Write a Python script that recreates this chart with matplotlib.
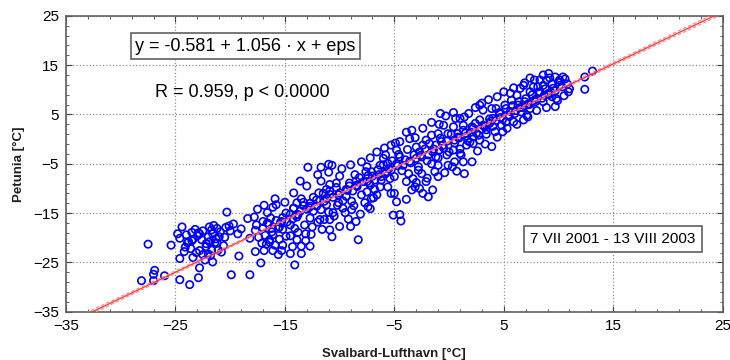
import numpy as np
import matplotlib
matplotlib.use("Agg")
import matplotlib.pyplot as plt
from matplotlib.ticker import FixedLocator

plt.rcParams['font.family'] = ['Liberation Sans', 'DejaVu Sans']

# daily mean air temperature [°C]
svalbard = [
    # cold tail
    -27.5, -28.1, -27.0, -26.9, -27.0, -26.0, -25.4, -24.6, -23.7, -22.9, -22.8,
    -24.4, -24.6, -24.0, -23.5, -23.4, -23.9, -24.2, -24.6, -23.4, -23.1, -22.8,
    -21.7, -21.6, -21.2, -21.0, -22.0, -21.9, -22.2, -21.7, -21.2, -21.1, -22.5,
    -22.0, -21.6, -22.3, -20.0, -19.7, -20.3, -20.1, -19.3, -19.0, -19.2, -19.9,
    -18.2, -18.2, -18.4,
    -24.8, -23.8, -23.0, -22.5, -22.2, -21.3, -20.9, -20.6, -21.9, -23.6, -20.5, -22.8,
    -24.1, -23.2, -22.6, -21.5, -20.8, -21.8, -22.9, -23.5, -20.4, -21.4,
    # -18 .. -8
    -17.8, -17.6, -17.7, -17.4, -17.1, -17.7, -17.2, -16.9, -16.7, -17.0, -16.6,
    -16.3, -16.1, -15.9, -15.8, -16.2, -16.1, -16.4, -15.9, -16.1, -15.3, -15.2,
    -15.5, -15.6, -15.2, -15.3, -14.9, -15.0, -14.2, -13.6, -12.9, -13.0, -13.9,
    -14.2, -13.5, -13.3, -13.8, -14.3, -14.5, -14.1, -14.5, -13.9, -14.3, -14.5,
    -14.1, -13.5, -13.5, -12.7, -12.6, -13.1, -13.2, -12.7, -12.4, -12.7, -12.1,
    -11.9, -11.7, -11.7, -11.0, -10.7, -10.0, -10.3, -10.9, -11.2, -10.9, -11.2,
    -11.7, -11.8, -11.4, -10.9, -10.9, -10.7, -10.0, -10.6, -10.1, -9.7, -9.4,
    -9.1, -8.9, -8.9, -9.0, -8.5, -8.3, -8.6, -8.5,
    -17.5, -16.9, -16.4, -15.6, -14.9, -13.8, -13.1, -12.5, -12.0, -11.6, -11.0,
    -10.5, -10.2, -9.5, -9.2, -8.7, -8.1, -7.7, -7.2, -6.9,
    # -8 .. 13
    -7.5, -7.1, -7.4, -6.8, -7.2, -7.5, -7.1, -7.4, -6.6, -6.3, -6.2, -6.3,
    -6.0, -5.8, -5.6, -5.3, -5.4, -5.6, -5.3, -4.8, -5.0, -5.1, -4.5, -4.4,
    -3.9, -5.3, -4.8, -4.5, -3.9, -3.6, -3.1, -4.5, -4.2, -3.7, -3.9, -3.3,
    -3.1, -3.4, -2.7, -2.4, -1.9, -1.5, -2.1, -2.5, -2.8, -3.0, -2.7, -2.4,
    -2.1, -1.6, -1.9, -1.6, -1.3, -1.0, -1.2, -0.9, -0.7, -1.0, -0.5, -0.8,
    -0.3, 0.4, -0.1, -0.2, -0.1, -0.4, 0.7, 1.4, 0.5, 1.3, 2.1, 1.0, 0.4, 0.5,
    0.8, 0.4, 1.3, 1.0, 1.4, 1.7, 1.6, 2.2, 2.2, 2.7, 2.4, 2.1, 2.8, 2.8, 3.1,
    3.3, 3.4, 3.9, 4.2, 3.7, 4.0, 4.3, 3.9, 4.6, 4.9, 4.8, 5.2, 5.4, 5.1, 5.9,
    6.0, 5.7, 5.6, 6.2, 6.3, 6.6, 6.8, 7.2, 7.4, 6.9, 6.8, 7.4, 7.7, 8.0, 7.8,
    8.3, 8.6, 9.1, 8.9, 8.6, 9.1, 9.5, 9.7, 10.1, 10.4, 9.8, 9.7, 9.4, 10.1,
    10.9, 12.4, 13.1, 12.4, 8.3, 8.1, 6.5,
    # core along the line
    -17.0, -16.8, -16.5, -16.2, -15.8, -15.5, -15.2, -14.8, -14.5, -14.2, -13.9,
    -13.6, -13.3, -13.0, -12.7, -12.4, -12.1, -11.8, -11.5, -11.2, -10.9, -10.6,
    -10.3, -10.0, -9.7, -9.4, -9.1, -8.8, -8.5, -8.2, -8.0, -7.8, -7.6, -7.3,
    -7.0, -6.8, -6.5, -6.2, -6.0, -5.8, -5.5, -5.2, -5.0, -4.8, -4.6, -4.3,
    -4.0, -3.8, -3.5, -3.2, -3.0, -2.8, -2.5, -2.2, -2.0, -1.8, -1.5, -1.2,
    -1.0, -0.8, -0.5, -0.2, 0.0, 0.2, 0.5, 0.8, 1.0, 1.3, 1.6, 1.9, 2.2, 2.5,
    2.8, 3.1, 3.4, 3.7, 4.0, 4.3, 4.6, 4.9, 5.2, 5.5, 5.8, 6.1, 6.4, 6.7, 7.0,
    7.3, 7.6, 7.9, 8.2, 8.5, 8.8, 9.1, 9.4, 9.7, 10.0, 10.3,
    -12.0, -11.0, -9.8, -9.0, -8.0, -7.2, -6.6, -5.9, -4.9, -3.4, -2.4, -1.6,
    -0.9, 0.6, 1.8, 2.4, 3.0, 3.6, 4.4, 5.0, 5.9, 6.9, 7.4, 8.6, 9.2, 10.6,
    10.8, 11.0,
    -3.0, -2.0, -1.0, 0.3, 1.1, 2.6, 3.3, 4.4, 5.3, 6.2, 7.1, 8.0, 8.9, 9.9, 10.5,
    -16.6, -15.4, -14.0, -12.8, -11.4, -10.1, -9.3, -8.4, -7.5, -6.4, -5.7,
    -4.7, -3.6, -2.6, -1.4, -0.6, 0.9, 1.5, 2.0, 3.2, 3.8, 4.7, 5.6, 6.5, 7.2,
    7.8, 8.7, 9.3,
]

petunia = [
    -21.3, -28.7, -28.7, -26.6, -27.4, -27.7, -21.5, -28.5, -29.5, -28.1, -26.1,
    -17.8, -20.1, -19.4, -18.9, -20.3, -21.0, -22.8, -24.2, -24.0, -23.0, -19.2,
    -18.4, -19.2, -18.1, -19.8, -19.8, -20.8, -21.8, -22.5, -21.1, -22.5, -23.4,
    -23.3, -24.9, -24.5, -18.6, -17.2, -14.8, -17.6, -19.2, -18.2, -23.7, -27.5,
    -27.5, -20.1, -16.1,
    -19.2, -20.8, -19.6, -18.6, -21.2, -20.2, -18.8, -21.6, -17.8, -22.2, -19.9, -22.6,
    -21.9, -18.3, -20.4, -17.5, -22.9, -23.6, -19.0, -20.6, -17.9, -21.0,
    -15.8, -17.4, -18.5, -19.9, -21.1, -22.8, -25.1, -22.6, -21.3, -16.7, -14.9,
    -16.0, -13.8, -12.1, -13.3, -18.1, -19.4, -20.4, -21.5, -22.6, -22.6, -21.5,
    -20.3, -18.1, -18.3, -16.7, -15.0, -12.8, -10.9, -8.5, -5.7, -9.5, -12.9,
    -14.0, -12.1, -13.5, -15.3, -16.2, -17.4, -18.1, -19.6, -20.4, -21.8, -23.2,
    -25.5, -21.7, -23.2, -21.7, -19.3, -19.2, -17.4, -16.0, -14.6, -13.6, -12.3,
    -10.9, -8.5, -5.7, -5.1, -5.3, -7.5, -8.9, -9.2, -10.2, -11.2, -13.3,
    -14.3, -16.3, -16.3, -16.3, -18.4, -19.8, -17.7, -14.9, -12.9, -14.0, -11.6,
    -9.5, -12.6, -14.3, -17.7, -16.7, -20.4, -7.2, -8.5,
    -14.2, -13.4, -20.9, -23.4, -19.7, -18.9, -20.6, -17.8, -16.8, -18.3, -14.8,
    -15.6, -13.4, -14.9, -16.2, -13.5, -15.2, -12.9, -14.1, -11.9,
    -5.6, -6.6, -7.4, -8.3, -9.3, -10.7, -12.0, -13.7, -11.3, -9.7, -7.6, -5.3,
    -3.9, -3.2, -4.9, -6.3, -8.0, -9.7, -11.0, -12.7, -11.0, -15.4, -15.3, -16.6,
    -12.2, -1.2, -2.2, -0.5, 1.4, 0.1, 0.3, -3.6, -5.3, -7.0, -8.6, -8.0,
    -9.7, -10.3, -10.0, -11.0, -11.7, -10.3, -8.6, -7.0, -5.6, -3.9, -2.6, -1.2,
    -0.2, 0.8, -3.2, -5.0, -6.6, -5.3, -3.6, -2.2, -0.5, 1.1, 2.8, 5.2,
    4.7, 5.4, 1.1, -3.2, -5.3, -6.8, -6.5, -7.0, -4.6, -4.6, -4.6, -2.9,
    -2.2, -0.2, 1.1, 2.5, 2.8, 4.2, 4.5, -0.3, -1.2, 0.5, -0.9, 0.8, 3.2,
    2.5, 3.9, 6.9, 5.9, 2.5, 1.0, -1.5, 1.5, 3.2, 4.2, 6.2, 6.2, 5.2,
    1.5, 2.8, 3.5, 4.9, 6.9, 3.5, 5.2, 7.9, 9.3, 8.9, 6.9, 5.5, 3.9, 4.5,
    6.2, 7.6, 10.9, 9.6, 10.6, 8.2, 12.0, 9.6, 10.9, 13.3, 12.0, 7.6, 9.3,
    10.3, 12.6, 12.0, 12.6, 8.2, 6.6, 8.6, 10.9,
    9.6, 12.6, 13.8, 10.1, 12.0, 10.6, 10.3,
    -18.0, -19.5, -17.2, -18.8, -16.5, -17.8, -15.9, -16.8, -15.2, -14.0, -15.8,
    -14.6, -12.8, -14.2, -13.0, -11.8, -13.6, -12.4, -11.0, -12.0, -10.5, -11.8,
    -9.8, -10.9, -12.5, -10.2, -8.9, -10.5, -9.4, -7.8, -11.3, -8.6, -6.6, -8.9,
    -7.5, -10.2, -6.2, -8.3, -5.2, -7.0, -6.0, -4.4, -7.6, -5.0, -3.1, -6.4,
    -4.2, -2.1, -4.8, -3.2, -1.6, -6.3, -3.6, -2.0, -4.4, -0.9, -2.6, -1.2,
    -3.8, 0.2, -1.8, -0.4, -2.6, 1.0, -0.8, 0.4, -2.0, 1.8, 0.6, -0.6, 2.2, 1.2,
    -0.2, 2.8, 1.9, 4.1, 2.6, 3.8, 5.4, 4.0, 6.2, 4.6, 6.8, 5.8, 7.6, 6.4, 8.2,
    7.0, 9.0, 7.6, 9.4, 8.3, 10.2, 9.0, 11.2, 9.8, 11.6, 10.6,
    -7.2, -6.7, -6.0, -5.2, -4.6, -3.8, -2.6, -1.8, -0.8, 1.8, 2.2, 3.4,
    3.0, 4.2, 5.2, 6.4, 7.3, 8.0, 8.6, 9.6, 10.4, 11.4, 12.4, 13.0, 12.4, 12.2,
    11.2, 10.2,
    -8.8, -7.9, -7.6, -5.6, -3.2, -2.4, -1.0, 0.4, 2.2, 3.0, 4.8, 5.8, 6.4, 7.8, 8.8,
    -17.0, -16.9, -15.4, -13.9, -12.6, -11.3, -10.4, -9.6, -8.6, -7.2, -6.6,
    -5.4, -4.5, -3.3, -2.0, -1.3, 0.2, 1.2, 1.4, 2.6, 3.6, 4.4, 5.6, 6.4, 7.1,
    7.9, 8.9, 9.5,
]

# regression from the chart annotation
intercept = -0.581
slope = 1.056
r_value = 0.959
period = "7 VII 2001 - 13 VIII 2003"
n_days = 768  # days in the period

x = np.array(svalbard)
y = np.array(petunia)

fig = plt.figure(figsize=(7.3, 3.6), dpi=100)
ax = fig.add_axes([0.0904, 0.134, 0.8996, 0.822])

ax.scatter(x, y, s=28, facecolors='none', edgecolors='#0000ff',
           linewidths=1.2, zorder=3)

# fitted line and confidence band of the mean
xl = np.linspace(-35, 25, 200)
yl = intercept + slope * xl
resid = y - (intercept + slope * x)
s = np.sqrt(np.sum(resid ** 2) / (len(x) - 2))
sxx = np.sum((x - x.mean()) ** 2) * n_days / len(x)
se = s * np.sqrt(1 / n_days + (xl - x.mean()) ** 2 / sxx)
ax.plot(xl, yl, color='#ff3030', lw=0.9, zorder=4)
ax.plot(xl, yl + se, color='#ff8080', lw=0.8, ls=(0, (3, 2)), zorder=4)
ax.plot(xl, yl - se, color='#ff8080', lw=0.8, ls=(0, (3, 2)), zorder=4)

ax.set_xlim(-35, 25)
ax.set_ylim(-35, 25)
ticks = np.arange(-35, 26, 10)
ax.set_xticks(ticks)
ax.set_yticks(ticks)
ax.xaxis.set_minor_locator(FixedLocator(np.arange(-35, 26, 2)))
ax.yaxis.set_minor_locator(FixedLocator(np.arange(-35, 26, 2)))
ax.tick_params(which='both', direction='in', top=True, right=True,
               colors='#404040', labelcolor='black', labelsize=11)
ax.tick_params(which='major', length=4, pad=5)
ax.tick_params(which='minor', length=2)
ax.grid(True, which='major', ls=':', color='#909090', lw=0.9)
for sp in ax.spines.values():
    sp.set_color('#606060')
    sp.set_linewidth(1.2)

ax.set_xlabel('Svalbard-Lufthavn [°C]', fontsize=9.5, fontweight='bold',
              color='#202020', labelpad=11)
ax.set_ylabel('Petunia [°C]', fontsize=9.5, fontweight='bold',
              color='#202020', labelpad=6)

ax.text(-18.6, 18.85, f'y = {intercept} + {slope} · x + eps', fontsize=13,
        ha='center', va='center',
        bbox=dict(boxstyle='square,pad=0.25', fc='white', ec='#606060', lw=1.2))
ax.text(-18.9, 9.4, f'R = {r_value}, p < 0.0000', fontsize=13,
        ha='center', va='center')
ax.text(14.95, -20.3, period, fontsize=11, ha='center', va='center',
        bbox=dict(boxstyle='square,pad=0.4', fc='white', ec='#606060', lw=1.2))

fig.savefig('out.png', dpi=100)
